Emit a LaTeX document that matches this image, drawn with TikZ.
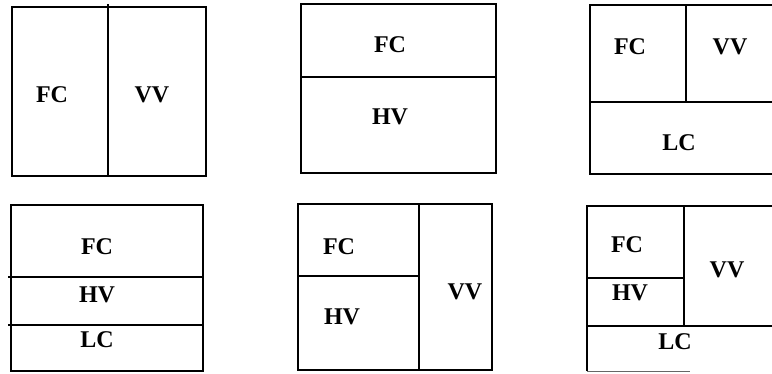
\documentclass[tikz,border=0pt]{standalone}
\usepackage{fontspec}
\setmainfont{Liberation Serif}
\begin{document}
\begin{tikzpicture}[x=1pt,y=-1pt,
  ln/.style={line width=1.9pt},
  faint/.style={line width=1.0pt,black!60},
  lbl/.style={font=\fontsize{24}{24}\selectfont\bfseries,inner sep=0pt,anchor=center}]
\useasboundingbox (0,0) rectangle (772,373);
% Panel 1
\draw[ln] (12,7) rectangle (206,176);
\draw[ln] (108,4) -- (108,176);
\node[lbl] (p1fc) at (52,95) {FC};
\node[lbl] (p1vv) at (152,95) {VV};
% Panel 2
\draw[ln] (301,4) rectangle (496,173);
\draw[ln] (301,77) -- (496,77);
\node[lbl] (p2fc) at (390,45) {FC};
\node[lbl] (p2hv) at (390,117) {HV};
% Panel 3
\draw[ln] (773,5) -- (590,5) -- (590,174) -- (773,174);
\draw[ln] (590,102) -- (773,102);
\draw[ln] (686,5) -- (686,102);
\node[lbl] (p3fc) at (630,47) {FC};
\node[lbl] (p3vv) at (730,47) {VV};
\node[lbl] (p3lc) at (679,143) {LC};
% Panel 4
\draw[ln] (11,205) rectangle (203,371);
\draw[ln] (8,277) -- (203,277);
\draw[ln] (8,325) -- (203,325);
\node[lbl] (p4fc) at (97,247) {FC};
\node[lbl] (p4hv) at (97,295) {HV};
\node[lbl] (p4lc) at (97,340) {LC};
% Panel 5
\draw[ln] (298,204) rectangle (492,370);
\draw[ln] (419,204) -- (419,370);
\draw[ln] (298,276) -- (419,276);
\node[lbl] (p5fc) at (339,247) {FC};
\node[lbl] (p5hv) at (342,317) {HV};
\node[lbl] (p5vv) at (465,292) {VV};
% Panel 6
\draw[ln] (773,206) -- (587,206) -- (587,371);
\draw[ln] (684,206) -- (684,325);
\draw[ln] (587,278) -- (684,278);
\draw[ln] (587,326) -- (773,326);
\draw[faint] (587,371) -- (690,371);
\node[lbl] (p6fc) at (627,245) {FC};
\node[lbl] (p6hv) at (630,293) {HV};
\node[lbl] (p6vv) at (727,270) {VV};
\node[lbl] (p6lc) at (675,342) {LC};
\end{tikzpicture}
\end{document}
